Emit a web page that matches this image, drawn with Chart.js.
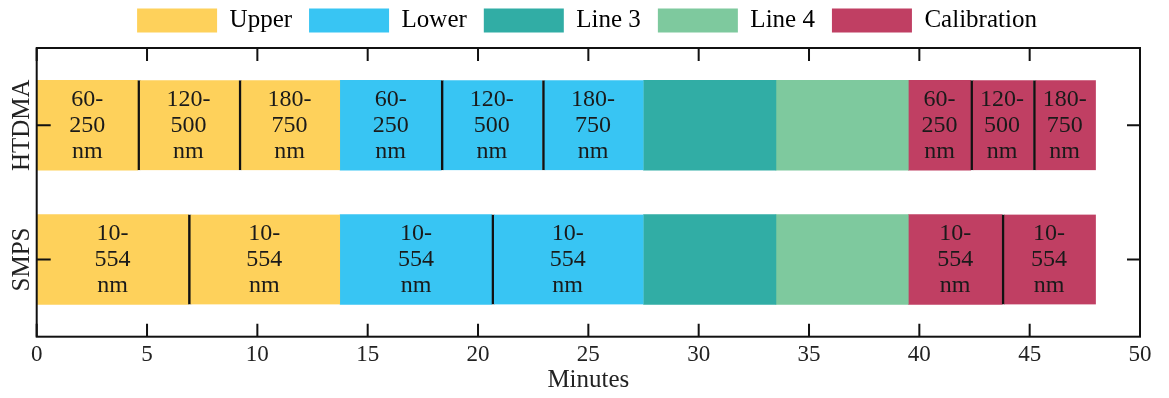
<!DOCTYPE html>
<html>
<head>
<meta charset="utf-8">
<script src="https://cdn.jsdelivr.net/npm/chart.js@4"></script>
<style>
  html, body { margin: 0; padding: 0; background: #ffffff; }
  #wrap { position: relative; width: 1169px; height: 398px; }
</style>
</head>
<body>
<div id="wrap"><canvas id="chart"></canvas></div>
<script>
// Instrument rows (top to bottom)
const categories = ['HTDMA', 'SMPS'];

// Measurement phases, in legend order, with their fill colours
const phases = ['Upper', 'Lower', 'Line 3', 'Line 4', 'Calibration'];
const phaseColors = ['#FED15B', '#38C5F3', '#31ADA5', '#7EC99E', '#C03F63'];

// HTDMA schedule: segment boundaries in minutes, the phase of each segment and its size range
const htdmaEdges = [0, 4.58, 9.17, 13.75, 18.33, 22.92, 27.5, 33.5, 39.5, 42.33, 45.17, 48];
const htdmaPhase = ['Upper', 'Upper', 'Upper', 'Lower', 'Lower', 'Lower', 'Line 3', 'Line 4', 'Calibration', 'Calibration', 'Calibration'];
const htdmaRange = ['60-250', '120-500', '180-750', '60-250', '120-500', '180-750', '', '', '60-250', '120-500', '180-750'];

// SMPS schedule
const smpsEdges = [0, 6.875, 13.75, 20.625, 27.5, 33.5, 39.5, 43.75, 48];
const smpsPhase = ['Upper', 'Upper', 'Lower', 'Lower', 'Line 3', 'Line 4', 'Calibration', 'Calibration'];
const smpsRange = ['10-554', '10-554', '10-554', '10-554', '', '', '10-554', '10-554'];

// Minute axis
const xMin = 0, xMax = 50, xStep = 5;

const schedules = [
  { edges: htdmaEdges, phase: htdmaPhase, range: htdmaRange },
  { edges: smpsEdges, phase: smpsPhase, range: smpsRange }
];

// One dataset per phase; each segment is a floating bar on its instrument row
const datasets = phases.map((name, k) => {
  const data = [];
  schedules.forEach((s, row) => {
    s.phase.forEach((p, j) => {
      if (p !== name) return;
      data.push({
        x: [s.edges[j], s.edges[j + 1]],
        y: row,
        range: s.range[j],
        split: j > 0 && s.phase[j - 1] === name
      });
    });
  });
  return {
    label: name,
    data: data,
    backgroundColor: phaseColors[k],
    borderColor: '#111111',
    borderSkipped: false,
    borderWidth: (c) => ({ top: 0, right: 0, bottom: 0, left: (c.raw && c.raw.split) ? 2.5 : 0 }),
    grouped: false,
    barThickness: 90
  };
});

const SERIF = "'Liberation Serif', 'Times New Roman', serif";

// Frame, inward tick marks, row labels and the size-range text inside each segment
const framePlugin = {
  id: 'frame',
  afterDatasetsDraw(chart) {
    const { ctx, chartArea: a, scales } = chart;
    const x = scales.x, y = scales.y;
    ctx.save();

    // size range labels
    ctx.fillStyle = '#1a1a1a';
    ctx.font = '24px ' + SERIF;
    ctx.textAlign = 'center';
    ctx.textBaseline = 'middle';
    chart.data.datasets.forEach((ds, di) => {
      const meta = chart.getDatasetMeta(di);
      meta.data.forEach((bar, i) => {
        const txt = ds.data[i].range;
        if (!txt) return;
        const parts = txt.split('-');
        const lines = [parts[0] + '-', parts[1], 'nm'];
        const c = bar.getCenterPoint();
        lines.forEach((ln, li) => ctx.fillText(ln, c.x, c.y + (li - 1) * 26));
      });
    });

    // plot frame
    ctx.strokeStyle = '#111111';
    ctx.lineWidth = 2;
    ctx.strokeRect(a.left, a.top, a.right - a.left, a.bottom - a.top);

    // inward ticks along bottom and top
    ctx.beginPath();
    x.ticks.forEach(t => {
      const px = x.getPixelForValue(t.value);
      ctx.moveTo(px, a.bottom); ctx.lineTo(px, a.bottom - 13);
      ctx.moveTo(px, a.top); ctx.lineTo(px, a.top + 13);
    });
    // inward ticks along left and right
    categories.forEach((c, i) => {
      const py = y.getPixelForValue(i);
      ctx.moveTo(a.left, py); ctx.lineTo(a.left + 14, py);
      ctx.moveTo(a.right, py); ctx.lineTo(a.right - 13, py);
    });
    ctx.stroke();

    // row labels, rotated
    ctx.fillStyle = '#222222';
    ctx.font = '25px ' + SERIF;
    categories.forEach((c, i) => {
      const py = y.getPixelForValue(i);
      ctx.save();
      ctx.translate(22.5, py);
      ctx.rotate(-Math.PI / 2);
      ctx.fillText(c, 0, 0);
      ctx.restore();
    });
    ctx.restore();
  }
};

new Chart(document.getElementById('chart'), {
  type: 'bar',
  data: { datasets: datasets },
  options: {
    indexAxis: 'y',
    responsive: true,
    maintainAspectRatio: false,
    animation: false,
    layout: { padding: { top: -9, left: 34, right: 29, bottom: 0 } },
    scales: {
      x: {
        type: 'linear',
        position: 'bottom',
        min: xMin,
        max: xMax,
        grid: { display: false, drawTicks: false },
        border: { display: false },
        ticks: {
          stepSize: xStep,
          padding: 4,
          color: '#222222',
          font: { family: SERIF, size: 23 }
        },
        title: {
          display: true,
          text: 'Minutes',
          color: '#222222',
          font: { family: SERIF, size: 25 },
          padding: { top: 0, bottom: 3 }
        },
        afterFit: (s) => { s.height = 61.3; }
      },
      top: {
        type: 'linear',
        axis: 'x',
        position: 'top',
        display: true,
        grid: { display: false, drawTicks: false },
        border: { display: false },
        ticks: { display: false },
        afterFit: (s) => { s.height = 5; }
      },
      y: {
        type: 'linear',
        position: 'left',
        min: -0.575,
        max: 1.575,
        reverse: true,
        offset: false,
        grid: { display: false, drawTicks: false },
        border: { display: false },
        ticks: { display: false },
        afterFit: (s) => { s.width = 2.7; }
      }
    },
    plugins: {
      tooltip: { enabled: false },
      legend: {
        position: 'top',
        labels: {
          boxWidth: 80,
          boxHeight: 24,
          padding: 17,
          color: '#222222',
          font: { family: SERIF, size: 25 },
          generateLabels: (chart) => chart.data.datasets.map((ds, i) => ({
            text: ds.label,
            fillStyle: ds.backgroundColor,
            strokeStyle: ds.backgroundColor,
            lineWidth: 0,
            hidden: false,
            datasetIndex: i
          }))
        }
      }
    }
  },
  plugins: [framePlugin]
});
</script>
</body>
</html>
